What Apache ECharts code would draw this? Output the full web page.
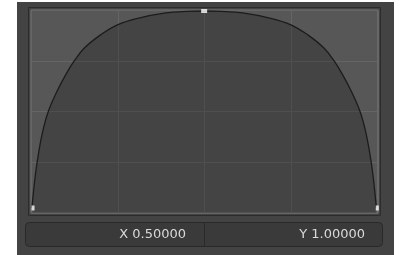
<!DOCTYPE html>
<html>
<head>
<meta charset="utf-8">
<script src="https://cdn.jsdelivr.net/npm/echarts@6/dist/echarts.min.js"></script>
<style>
  html, body { margin: 0; padding: 0; background: #ffffff; }
  #main { width: 400px; height: 255px; }
</style>
</head>
<body>
<div id="main"></div>
<script>
// curve samples (x, y in 0..1)
var curveX = [0, 0.001, 0.007, 0.015, 0.030, 0.047, 0.073, 0.098, 0.122, 0.152, 0.200, 0.248, 0.310, 0.389, 0.450, 0.500,
              0.550, 0.611, 0.690, 0.752, 0.800, 0.848, 0.878, 0.902, 0.927, 0.953, 0.970, 0.985, 0.993, 0.999, 1];
var curveY = [0, 0.025, 0.127, 0.235, 0.381, 0.489, 0.594, 0.677, 0.745, 0.812, 0.880, 0.930, 0.964, 0.990, 0.998, 1,
              0.998, 0.990, 0.964, 0.930, 0.880, 0.812, 0.745, 0.677, 0.594, 0.489, 0.381, 0.235, 0.127, 0.025, 0];
var pointX = [0, 0.5, 1];
var pointY = [0, 1, 0];
var labelX = 'X 0.50000';
var labelY = 'Y 1.00000';

var curve = curveX.map(function (x, i) { return [x, curveY[i]]; });
var points = pointX.map(function (x, i) { return [x, pointY[i]]; });

var chartDom = document.getElementById('main');
var myChart = echarts.init(chartDom);
var option;

var gridLine = { show: true, lineStyle: { color: '#656565', width: 1 } };

option = {
    animation: false,
    backgroundColor: '#ffffff',
    graphic: [
        // panel
        { type: 'rect', z: -10, shape: { x: 17, y: 2, width: 377, height: 253 }, style: { fill: '#434343' } },
        // outer dark frame of the curve area
        { type: 'rect', z: -5, shape: { x: 28.5, y: 7.5, width: 352, height: 208 }, style: { fill: 'none', stroke: '#2c2c2c', lineWidth: 1 } },
        // value button
        { type: 'rect', z: 5, shape: { x: 25.5, y: 222.5, width: 357, height: 24, r: 4 }, style: { fill: '#3a3a3a', stroke: '#292929', lineWidth: 1 } },
        { type: 'line', z: 6, shape: { x1: 204.5, y1: 223, x2: 204.5, y2: 246 }, style: { stroke: '#292929', lineWidth: 1 } },
        { type: 'text', z: 7, x: 186, y: 235, style: { text: labelX, fill: '#dadada', font: '13px "DejaVu Sans"', align: 'right', verticalAlign: 'middle' } },
        { type: 'text', z: 7, x: 365, y: 235, style: { text: labelY, fill: '#dadada', font: '13px "DejaVu Sans"', align: 'right', verticalAlign: 'middle' } }
    ],
    grid: {
        show: true,
        left: 31, right: 22, top: 10, bottom: 42,
        backgroundColor: '#575757',
        borderColor: '#7c7c7c',
        borderWidth: 1
    },
    xAxis: [
        { type: 'value', min: 0, max: 1, interval: 0.25, axisLine: { show: false }, axisTick: { show: false }, axisLabel: { show: false }, splitLine: gridLine },
        { type: 'value', min: -0.003, max: 1.005, position: 'bottom', axisLine: { show: false }, axisTick: { show: false }, axisLabel: { show: false }, splitLine: { show: false } }
    ],
    yAxis: [
        { type: 'value', min: 0, max: 1, interval: 0.25, axisLine: { show: false }, axisTick: { show: false }, axisLabel: { show: false }, splitLine: gridLine },
        { type: 'value', min: -0.0254, max: 1.0051, axisLine: { show: false }, axisTick: { show: false }, axisLabel: { show: false }, splitLine: { show: false } }
    ],
    series: [
        {
            type: 'line',
            xAxisIndex: 1,
            yAxisIndex: 1,
            data: curve,
            smooth: 0.4,
            symbol: 'none',
            clip: true,
            lineStyle: { color: '#1c1c1c', width: 1.3 },
            areaStyle: { origin: 'start', color: 'rgba(0,0,0,0.3)' }
        },
        {
            type: 'scatter',
            xAxisIndex: 1,
            yAxisIndex: 1,
            z: 5,
            data: points,
            symbol: 'rect',
            // end handles are cut by the frame in the widget
            symbolSize: function (v) { return v[1] === 1 ? [6, 4] : [3, 5]; },
            symbolOffset: function (v) { return v[1] === 1 ? [0, 0] : (v[0] === 0 ? [1, 0] : [1, 0]); },
            clip: true,
            itemStyle: { color: '#ffffff' }
        }
    ]
};

option && myChart.setOption(option);
</script>
</body>
</html>
